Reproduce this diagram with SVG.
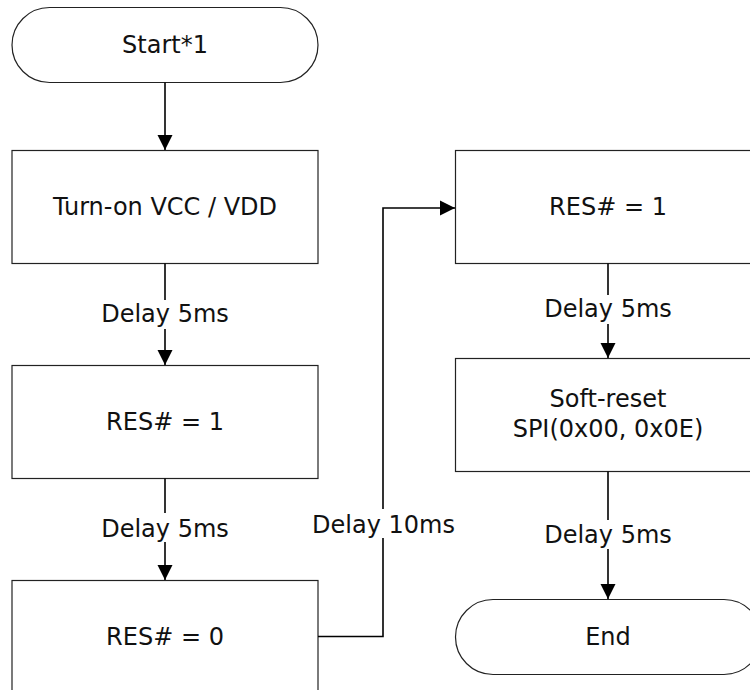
<svg xmlns="http://www.w3.org/2000/svg" width="750" height="690" viewBox="0 0 750 690">
<style>
.box{fill:#fff;stroke:#222;stroke-width:1.2}
.t{font-family:"DejaVu Sans",Verdana,sans-serif;font-size:24px;fill:#111;text-anchor:middle}
.c{fill:none;stroke:#000;stroke-width:1.6}
.lb{fill:#fff;stroke:none}
</style>
<defs>
<marker id="ah" markerUnits="userSpaceOnUse" markerWidth="16" markerHeight="16" viewBox="0 0 16 16" refX="15" refY="8" orient="auto">
<path d="M0,0.5 L15,8 L0,15.5 z" fill="#000"/>
</marker>
</defs>
<rect width="750" height="690" fill="#fff"/>
<g id="start"><rect class="box" x="12" y="7.5" width="306" height="75" rx="37.5"/><text class="t" x="165" y="53">Start*1</text></g>
<g id="power"><rect class="box" x="12" y="150.5" width="306" height="113"/><text class="t" x="165" y="215">Turn-on VCC / VDD</text></g>
<g id="res1a"><rect class="box" x="12" y="365.5" width="306" height="113"/><text class="t" x="165" y="430">RES# = 1</text></g>
<g id="res0"><rect class="box" x="12" y="580.5" width="306" height="113"/><text class="t" x="165" y="645">RES# = 0</text></g>
<g id="res1b"><rect class="box" x="455.5" y="150.5" width="306" height="113"/><text class="t" x="608" y="215">RES# = 1</text></g>
<g id="softreset"><rect class="box" x="455.5" y="358.5" width="306" height="113"/><text class="t" x="608" y="407">Soft-reset</text><text class="t" x="608" y="437">SPI(0x00, 0x0E)</text></g>
<g id="end"><rect class="box" x="455.5" y="599.5" width="306" height="75" rx="37.5"/><text class="t" x="608" y="645">End</text></g>
<g id="connectors">
<path class="c" d="M165,82.5 V150" marker-end="url(#ah)"/>
<path class="c" d="M165,263.5 V365" marker-end="url(#ah)"/>
<rect class="lb" x="100" y="300" width="130" height="29"/>
<text class="t" x="165" y="322">Delay 5ms</text>
<path class="c" d="M165,478.5 V580" marker-end="url(#ah)"/>
<rect class="lb" x="100" y="513" width="130" height="29"/>
<text class="t" x="165" y="537">Delay 5ms</text>
<path class="c" d="M318,636.5 H383 V208 H455" marker-end="url(#ah)"/>
<rect class="lb" x="311" y="509" width="146" height="29"/>
<text class="t" x="383.5" y="533">Delay 10ms</text>
<path class="c" d="M608,263.5 V358" marker-end="url(#ah)"/>
<rect class="lb" x="543" y="295" width="130" height="29"/>
<text class="t" x="608" y="317">Delay 5ms</text>
<path class="c" d="M608,471.5 V599" marker-end="url(#ah)"/>
<rect class="lb" x="543" y="520" width="130" height="29"/>
<text class="t" x="608" y="543">Delay 5ms</text>
</g>
</svg>
